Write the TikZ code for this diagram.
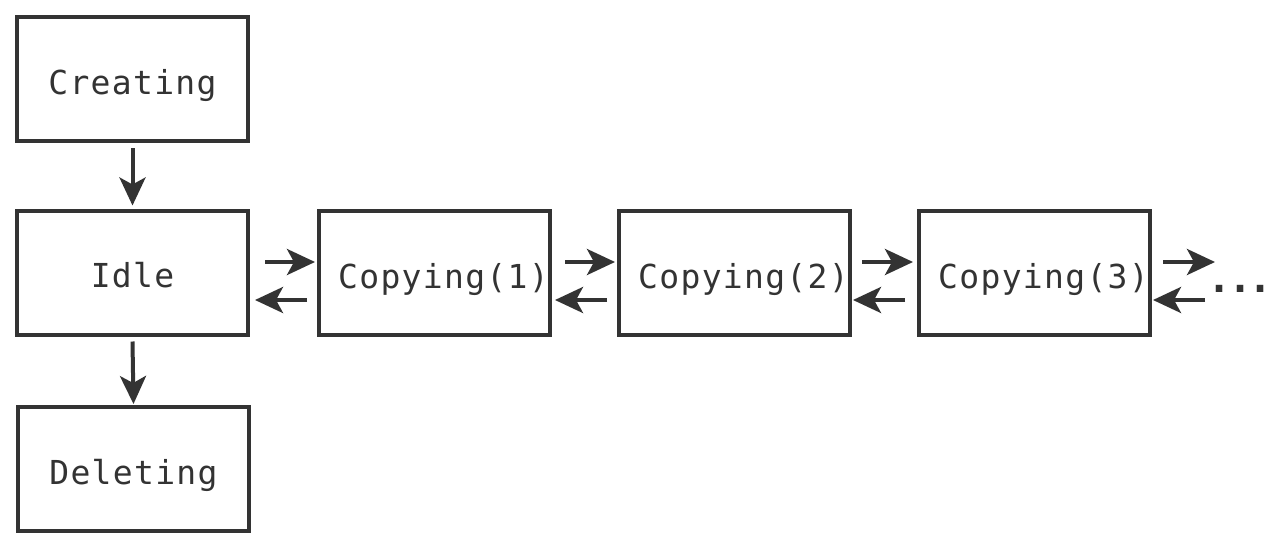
\documentclass[tikz,border=0pt]{standalone}
\usepackage{fontspec}
\newfontfamily\monofam[LetterSpace=4]{DejaVu Sans Mono}
\newfontfamily\dotfam[LetterSpace=-8]{DejaVu Sans Mono}
\usetikzlibrary{arrows.meta}
\definecolor{ink}{HTML}{333333}
\tikzset{
  statebox/.style={draw=ink, line width=4pt, minimum width=231pt, minimum height=124pt,
    inner sep=0pt, outer sep=0pt, text=ink, text height=30pt, text depth=0pt,
    font=\monofam\fontsize{33}{40}\selectfont},
  arr/.style={draw=ink, line width=4pt, -{Stealth[length=28pt,width=26pt,inset=7pt]}},
}
\begin{document}
\begin{tikzpicture}[x=1pt,y=-1pt]
\useasboundingbox (0,0) rectangle (1280,549);
\fill[white] (0,0) rectangle (1280,549);
\node[statebox] (creat) at (132.5,79) {Creating};
\node[statebox] (idle) at (132.5,272.5) {Idle};
\node[statebox] (del) at (133.5,469) {Deleting};
\node[statebox] (c1) at (434.5,273) {\hspace{18pt}Copying(1)};
\node[statebox] (c2) at (734.5,273) {\hspace{18pt}Copying(2)};
\node[statebox] (c3) at (1034.5,273) {\hspace{18pt}Copying(3)};
\node[anchor=base, text=ink, font=\dotfam\bfseries\fontsize{40}{44}\selectfont, inner sep=0pt] (dots) at (1240,292) {...};
\coordinate (r3) at (1215,262);
\coordinate (l3) at (1205,300);

\draw[arr] ([yshift=-7pt]creat.south) -- ([yshift=5pt]idle.north);
\draw[arr] ([yshift=-7pt]idle.south) -- ([yshift=3pt]del.north);

\draw[arr] ([xshift=17pt,yshift=11pt]c1.west -| idle.east) -- ([xshift=-4pt,yshift=11pt]c1.west);
\draw[arr] ([xshift=-12pt,yshift=-27pt]c1.west) -- ([xshift=7pt,yshift=-27pt]c1.west -| idle.east);

\draw[arr] ([xshift=15pt,yshift=11pt]c1.east) -- ([xshift=-4pt,yshift=11pt]c2.west);
\draw[arr] ([xshift=-12pt,yshift=-27pt]c2.west) -- ([xshift=5pt,yshift=-27pt]c1.east);

\draw[arr] ([xshift=12pt,yshift=11pt]c2.east) -- ([xshift=-6pt,yshift=11pt]c3.west);
\draw[arr] ([xshift=-14pt,yshift=-27pt]c3.west) -- ([xshift=3pt,yshift=-27pt]c2.east);

\draw[arr] ([xshift=13pt,yshift=11pt]c3.east) -- (r3);
\draw[arr] (l3) -- ([xshift=3pt,yshift=-27pt]c3.east);
\end{tikzpicture}
\end{document}
